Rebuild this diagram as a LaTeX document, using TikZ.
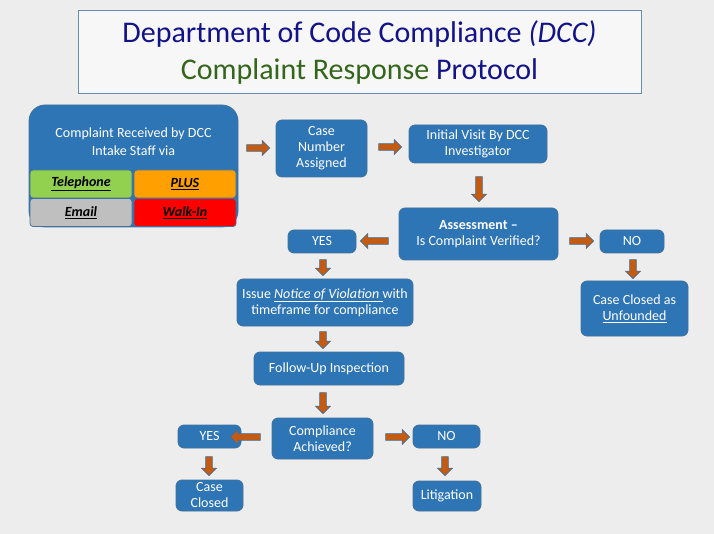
\documentclass[tikz,border=0pt]{standalone}
\usepackage{fontspec}
\setmainfont{Carlito}
\usetikzlibrary{shapes.arrows}
\definecolor{bfill}{HTML}{2E75B6}
\definecolor{bline}{HTML}{41719C}
\definecolor{afill}{HTML}{C55A11}
\definecolor{navy}{HTML}{12128A}
\definecolor{tgreen}{HTML}{33661A}
\definecolor{cgreen}{HTML}{92D050}
\definecolor{corange}{HTML}{FFA000}
\definecolor{cgray}{HTML}{BFBFBF}
\definecolor{cred}{HTML}{FF0000}
\tikzset{
  box/.style={rectangle, rounded corners=6pt, fill=bfill, draw=bline, line width=0.8pt, text=white, align=center, font=\fontsize{14}{16}\selectfont, inner sep=2pt},
  sub/.style={rectangle, rounded corners=3pt, draw=bline, line width=0.8pt, font=\fontsize{14}{16}\selectfont\bfseries\itshape, minimum width=102pt, minimum height=28pt},
  barrow/.style={single arrow, fill=afill, draw=bline, line width=0.6pt, minimum width=15pt, single arrow head extend=3.5pt, inner sep=2.4pt, anchor=center}
}
\newcommand{\ul}[1]{\underline{#1}}
\begin{document}
\begin{tikzpicture}[x=1pt,y=-1pt]
\fill[gray!14] (0,0) rectangle (714,534);
\useasboundingbox (0,0) rectangle (714,534);
% title
\node[draw=bline!80, fill=white!94!gray, line width=0.8pt, minimum width=563pt, minimum height=83pt] (title) at (359.5,51.5) {};
\node[text=navy, font=\fontsize{30}{32}\selectfont] (t1) at (359.5,34) {Department of Code Compliance \textit{(DCC)}};
\node[font=\fontsize{30}{32}\selectfont] (t2) at (359.5,72) {\textcolor{tgreen}{Complaint Response} \textcolor{navy}{Protocol}};
% intake
\node[box, rounded corners=16pt, minimum width=209pt, minimum height=122pt] (intake) at (133.5,166) {};
\node[text=white, align=center, font=\fontsize{14}{18}\selectfont] (intaket) at (133.5,142) {Complaint Received by DCC\\Intake Staff via};
\node[sub, fill=cgreen] (tel) at (81,184) {\ul{Telephone}};
\node[sub, fill=corange] (plus) at (185,184) {\ul{PLUS}};
\node[sub, fill=cgray] (email) at (81,212.5) {\ul{Email}};
\node[sub, fill=cred] (walk) at (185,212.5) {\ul{Walk-In}};
% boxes
\node[box, minimum width=91pt, minimum height=57pt] (case) at (321.5,148.5) {Case\\Number\\Assigned};
\node[box, minimum width=138pt, minimum height=38pt] (visit) at (478,144) {Initial Visit By DCC\\Investigator};
\node[box, minimum width=159pt, minimum height=52pt] (assess) at (478.5,234) {\textbf{Assessment –}\\Is Complaint Verified?};
\node[box, minimum width=68pt, minimum height=23pt] (yes1) at (322,241.5) {YES};
\node[box, minimum width=64pt, minimum height=23pt] (no1) at (632,241.5) {NO};
\node[box, minimum width=107pt, minimum height=55pt] (unf) at (634.5,308.5) {Case Closed as\\\ul{Unfounded}};
\node[box, minimum width=176pt, minimum height=47pt] (nov) at (325,302.5) {Issue \ul{\textit{Notice of Violation} }with\\timeframe for compliance};
\node[box, minimum width=150pt, minimum height=33pt] (follow) at (329,368.5) {Follow-Up Inspection};
\node[box, minimum width=101pt, minimum height=41pt] (comp) at (322.5,438.5) {Compliance\\Achieved?};
\node[box, minimum width=63pt, minimum height=23pt] (yes2) at (209.5,436.5) {YES};
\node[box, minimum width=67pt, minimum height=23pt] (no2) at (446.5,436.5) {NO};
\node[box, minimum width=67pt, minimum height=31pt] (closed) at (209.5,495.5) {Case\\Closed};
\node[box, minimum width=68pt, minimum height=30pt] (lit) at (447,496) {Litigation};
% arrows
\node[barrow, minimum height=23pt] (a1) at (256.5,148) {};
\node[barrow, minimum height=23pt] (a2) at (388.5,147) {};
\node[barrow, minimum height=25pt, rotate=-90] (a3) at (479,187.5) {};
\node[barrow, minimum height=28pt, rotate=180] (a4) at (376,241) {};
\node[barrow, minimum height=24pt] (a5) at (580,241) {};
\node[barrow, minimum height=19pt, rotate=-90] (a6) at (633,267.5) {};
\node[barrow, minimum height=16pt, rotate=-90] (a7) at (323,266) {};
\node[barrow, minimum height=17pt, rotate=-90] (a8) at (323,338.5) {};
\node[barrow, minimum height=21pt, rotate=-90] (a9) at (323,401.5) {};
\node[barrow, minimum height=30pt, rotate=180] (a10) at (247,437) {};
\node[barrow, minimum height=24pt] (a11) at (396,437) {};
\node[barrow, minimum height=19pt, rotate=-90] (a12) at (209,464.5) {};
\node[barrow, minimum height=19pt, rotate=-90] (a13) at (445,464.5) {};
\end{tikzpicture}
\end{document}
